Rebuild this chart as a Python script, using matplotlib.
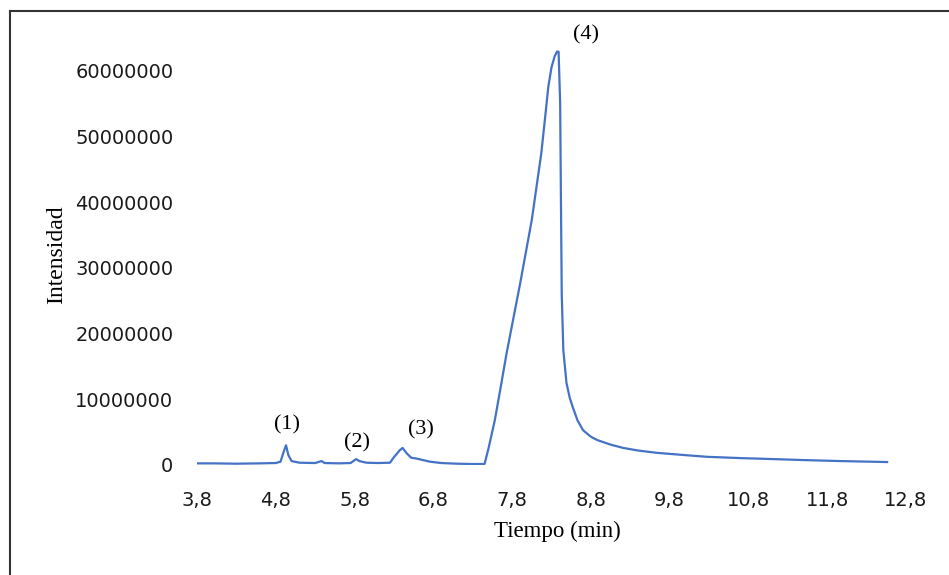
import matplotlib
matplotlib.use("Agg")
import matplotlib.pyplot as plt
from matplotlib.lines import Line2D

# Chromatogram trace (time in min, intensity)
tiempo = [3.80, 4.00, 4.30, 4.60, 4.80, 4.86, 4.90, 4.93, 4.96, 5.00, 5.10, 5.30,
          5.38, 5.42, 5.60, 5.75, 5.82, 5.86, 5.95, 6.10, 6.25, 6.30, 6.33, 6.37,
          6.41, 6.46, 6.52, 6.58, 6.65, 6.76, 6.90, 7.10, 7.30, 7.45, 7.50, 7.58,
          7.65, 7.73, 7.90, 8.05, 8.17, 8.22, 8.26, 8.30, 8.34, 8.37, 8.39, 8.41,
          8.42, 8.43, 8.45, 8.49, 8.53, 8.57, 8.63, 8.70, 8.80, 8.88, 9.05, 9.21,
          9.40, 9.64, 10.00, 10.27, 10.70, 11.11, 11.50, 11.96, 12.56]
intensidad = [0.25e6, 0.25e6, 0.2e6, 0.25e6, 0.3e6, 0.5e6, 2.0e6, 3.0e6, 1.5e6, 0.6e6,
              0.35e6, 0.3e6, 0.6e6, 0.3e6, 0.25e6, 0.3e6, 0.9e6, 0.6e6, 0.35e6, 0.3e6,
              0.35e6, 1.2e6, 1.6e6, 2.2e6, 2.6e6, 1.8e6, 1.1e6, 1.0e6, 0.8e6, 0.5e6,
              0.3e6, 0.2e6, 0.15e6, 0.15e6, 2.5e6, 6.8e6, 11.5e6, 17.0e6, 27.5e6,
              37.3e6, 47.4e6, 53.0e6, 57.6e6, 60.5e6, 62.2e6, 62.9e6, 62.9e6, 55.0e6,
              40.0e6, 26.0e6, 17.5e6, 12.5e6, 10.3e6, 8.8e6, 6.8e6, 5.3e6, 4.3e6,
              3.8e6, 3.1e6, 2.6e6, 2.2e6, 1.85e6, 1.5e6, 1.25e6, 1.05e6, 0.9e6,
              0.75e6, 0.6e6, 0.45e6]

x_ticks = [3.8, 4.8, 5.8, 6.8, 7.8, 8.8, 9.8, 10.8, 11.8, 12.8]
x_ticklabels = ["3,8", "4,8", "5,8", "6,8", "7,8", "8,8", "9,8", "10,8", "11,8", "12,8"]
y_ticks = [0, 10000000, 20000000, 30000000, 40000000, 50000000, 60000000]
y_ticklabels = ["0", "10000000", "20000000", "30000000", "40000000", "50000000", "60000000"]

peak_labels = ["(1)", "(2)", "(3)", "(4)"]
peak_x = [4.94, 5.83, 6.64, 8.74]
peak_y = [6.1e6, 3.35e6, 5.3e6, 65.4e6]

W, H = 949, 575
fig = plt.figure(figsize=(W / 100, H / 100), dpi=100)
ax = fig.add_axes([197 / W, 1 - 465 / H, (906 - 197) / W, 460 / H])

ax.plot(tiempo, intensidad, color="#4472C4", lw=1.6, solid_joinstyle="round")

ax.set_xlim(3.8, 12.8)
ax.set_ylim(0, 70e6)
ax.set_xticks(x_ticks)
ax.set_xticklabels(x_ticklabels)
ax.set_yticks(y_ticks)
ax.set_yticklabels(y_ticklabels)
for s in ax.spines.values():
    s.set_visible(False)
ax.tick_params(axis="both", length=0, labelsize=14, colors="#1a1a1a")
ax.tick_params(axis="y", pad=17)
ax.tick_params(axis="x", pad=19)

ax.set_xlabel("Tiempo (min)", family="Liberation Serif", fontsize=16.5, va="top")
ax.xaxis.set_label_coords((557 - 197) / 709, (465 - 521) / 460)
ax.set_ylabel("Intensidad", family="Liberation Serif", fontsize=17)
ax.yaxis.set_label_coords((67 - 197) / 709, (465 - 255) / 460)

for txt, px, py in zip(peak_labels, peak_x, peak_y):
    ax.text(px, py, txt, family="Liberation Serif", fontsize=16, ha="center", va="center")

# figure frame (top and left edges visible)
fig.add_artist(Line2D([9.5 / W, 1], [1 - 10.5 / H, 1 - 10.5 / H], transform=fig.transFigure,
                      color="#333333", lw=1.5))
fig.add_artist(Line2D([9.5 / W, 9.5 / W], [0, 1 - 10.5 / H], transform=fig.transFigure,
                      color="#333333", lw=1.5))

fig.savefig("out.png", dpi=100)
